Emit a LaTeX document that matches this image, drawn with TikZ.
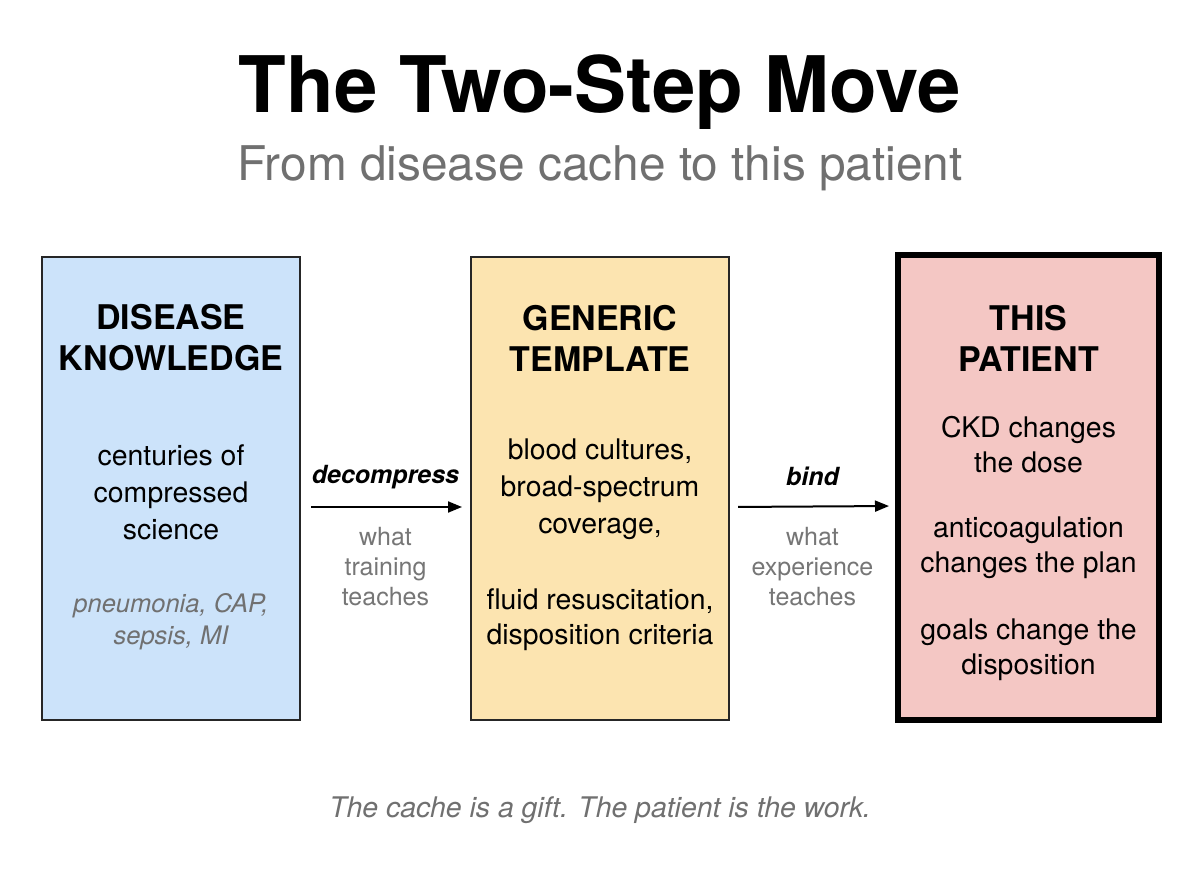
\documentclass[tikz,border=0pt]{standalone}
\usepackage{fontspec}
\setmainfont{TeX Gyre Heros}
\usetikzlibrary{arrows.meta,positioning}
\definecolor{cacheblue}{RGB}{204,227,250}
\definecolor{templateyellow}{RGB}{252,228,176}
\definecolor{patientpink}{RGB}{244,199,196}
\definecolor{subgray}{RGB}{112,112,112}
\definecolor{notegray}{RGB}{118,118,118}

\tikzset{
  stagebox/.style={draw=black!85, line width=2pt, minimum width=258pt, minimum height=463pt, inner sep=0pt},
  heading/.style={font=\fontsize{34}{41}\selectfont\bfseries, align=center},
  body/.style={font=\fontsize{28.4}{37}\selectfont, align=center},
  flow/.style={line width=2pt, -{Triangle[length=14pt,width=11pt]}},
  verb/.style={font=\fontsize{25}{30}\selectfont\bfseries\itshape},
  gloss/.style={font=\fontsize{25}{30}\selectfont, text=notegray, align=center}
}

\begin{document}
\begin{tikzpicture}[x=1pt, y=-1pt]
  % canvas
  \fill[white] (0,0) rectangle (1200,896);
  \useasboundingbox (0,0) rectangle (1200,896);
  % titles
  \node[font=\fontsize{78}{84}\selectfont\bfseries] (title) at (600,92) {The Two-Step Move};
  \node[font=\fontsize{47.8}{54}\selectfont, text=subgray] (subtitle) at (600,168) {From disease cache to this patient};
  % the three stages
  \node[stagebox, fill=cacheblue] (dk) at (171,488.5) {};
  \node[stagebox, fill=templateyellow] (gt) at (600,488.5) {};
  \node[stagebox, fill=patientpink, line width=6pt, draw=black, minimum width=261pt, minimum height=465pt] (tp) at (1028.5,487.5) {};
  % stage 1
  \node[heading] (dkhead) at (171,337.5) {DISEASE\\KNOWLEDGE};
  \node[body] (dkbody) at (171,492) {centuries of\\compressed\\science};
  \node[font=\fontsize{25.5}{32}\selectfont\itshape, text=subgray, align=center] (dkcases) at (171,622) {pneumonia, CAP,\\sepsis, MI};
  % stage 2
  \node[heading] (gthead) at (600,338) {GENERIC\\TEMPLATE};
  \node[body] (gtcare) at (600,489) {blood cultures,\\broad-spectrum\\coverage,};
  \node[body, font=\fontsize{28.4}{35}\selectfont] (gtdispo) at (600,619.5) {fluid resuscitation,\\disposition criteria};
  % stage 3
  \node[heading] (tphead) at (1028.5,338) {THIS\\PATIENT};
  \node[body, font=\fontsize{28.4}{35}\selectfont] (tpckd) at (1028.5,445) {CKD changes\\the dose};
  \node[body, font=\fontsize{28.4}{35}\selectfont] (tpanti) at (1028.5,547.5) {anticoagulation\\changes the plan};
  \node[body, font=\fontsize{28.4}{35}\selectfont] (tpgoals) at (1028.5,649.5) {goals change the\\disposition};
  % moves
  \draw[flow, shorten <=10pt, shorten >=8pt] ([yshift=-18.5pt]dk.east) -- ([yshift=-18.5pt]gt.west)
    node[verb, midway, yshift=30pt] (decomp) {decompress}
    node[gloss, midway, yshift=-60pt] (training) {what\\training\\teaches};
  \draw[flow, shorten <=8pt, shorten >=6pt] ([yshift=-18.5pt]gt.east) -- ([yshift=-18.5pt]tp.west)
    node[verb, midway, yshift=30pt] (bind) {bind}
    node[gloss, midway, yshift=-60pt] (experience) {what\\experience\\teaches};
  % footer
  \node[font=\fontsize{28.4}{34}\selectfont\itshape, text=subgray] (motto) at (600,810) {The cache is a gift. The patient is the work.};
\end{tikzpicture}
\end{document}
